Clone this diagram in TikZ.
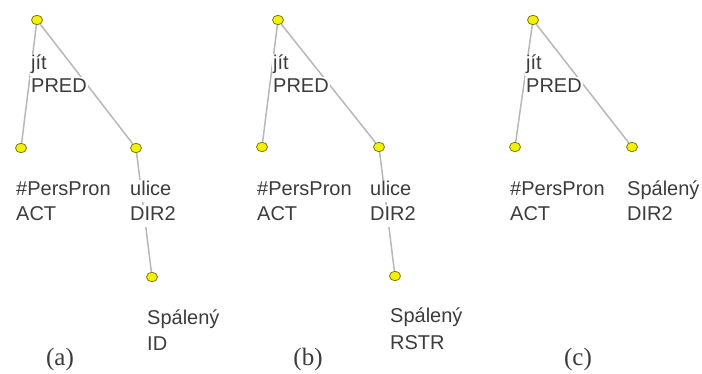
\documentclass[tikz,border=0pt]{standalone}
\usepackage{fontspec}
\setmainfont{Liberation Sans}
\newfontfamily\capfont{Liberation Serif}
\usetikzlibrary{shapes.geometric}
\definecolor{txtgray}{HTML}{3C3C3C}
\definecolor{linegray}{HTML}{B8B8B8}
\definecolor{dotfill}{HTML}{F2F200}
\definecolor{dotline}{HTML}{7A7A10}
\begin{document}
\begin{tikzpicture}[x=1pt,y=-1pt,
  dot/.style={ellipse,minimum width=11pt,minimum height=9.5pt,inner sep=0pt,fill=dotfill,draw=dotline,line width=0.8pt},
  conn/.style={draw=linegray,line width=1.5pt},
  lbl/.style={font=\fontsize{20}{24}\selectfont,text=txtgray,fill=white,inner sep=1pt,text height=15pt,text depth=5pt,anchor=base west},
  subcap/.style={font=\capfont\fontsize{25}{30}\selectfont,text=txtgray,inner sep=0pt,anchor=base}]
\useasboundingbox[fill=white] (0,0) rectangle (702,374);
% ---------- (a) ----------
\node[dot] (aR) at (37,20) {};
\node[dot] (aA) at (21,148) {};
\node[dot] (aU) at (136,148) {};
\node[dot] (aS) at (152,277) {};
\draw[conn] (aR) -- (aA);
\draw[conn] (aR) -- (aU);
\draw[conn] (aU) -- (aS);
\node[lbl] (aRw) at (30,70) {jít};
\node[lbl] (aRf) at (30,93) {PRED};
\node[lbl] (aAw) at (15,196) {\#PersPron};
\node[lbl] (aAf) at (15,221) {ACT};
\node[lbl] (aUw) at (129,196) {ulice};
\node[lbl] (aUf) at (129,221) {DIR2};
\node[lbl] (aSw) at (146,324) {Spálený};
\node[lbl] (aSf) at (146,350) {ID};
\node[subcap] (capa) at (60,365) {(a)};
% ---------- (b) ----------
\node[dot] (bR) at (278,20) {};
\node[dot] (bA) at (262,147) {};
\node[dot] (bU) at (379,147) {};
\node[dot] (bS) at (395,276) {};
\draw[conn] (bR) -- (bA);
\draw[conn] (bR) -- (bU);
\draw[conn] (bU) -- (bS);
\node[lbl] (bRw) at (272,70) {jít};
\node[lbl] (bRf) at (272,93) {PRED};
\node[lbl] (bAw) at (256,196) {\#PersPron};
\node[lbl] (bAf) at (256,221) {ACT};
\node[lbl] (bUw) at (369,196) {ulice};
\node[lbl] (bUf) at (369,221) {DIR2};
\node[lbl] (bSw) at (389,323) {Spálený};
\node[lbl] (bSf) at (389,349) {RSTR};
\node[subcap] (capb) at (308,365) {(b)};
% ---------- (c) ----------
\node[dot] (cR) at (533,20) {};
\node[dot] (cA) at (515,147) {};
\node[dot] (cS) at (632,147) {};
\draw[conn] (cR) -- (cA);
\draw[conn] (cR) -- (cS);
\node[lbl] (cRw) at (525,70) {jít};
\node[lbl] (cRf) at (525,93) {PRED};
\node[lbl] (cAw) at (509,196) {\#PersPron};
\node[lbl] (cAf) at (509,221) {ACT};
\node[lbl] (cSw) at (626,196) {Spálený};
\node[lbl] (cSf) at (626,221) {DIR2};
\node[subcap] (capc) at (578,365) {(c)};
\end{tikzpicture}
\end{document}
